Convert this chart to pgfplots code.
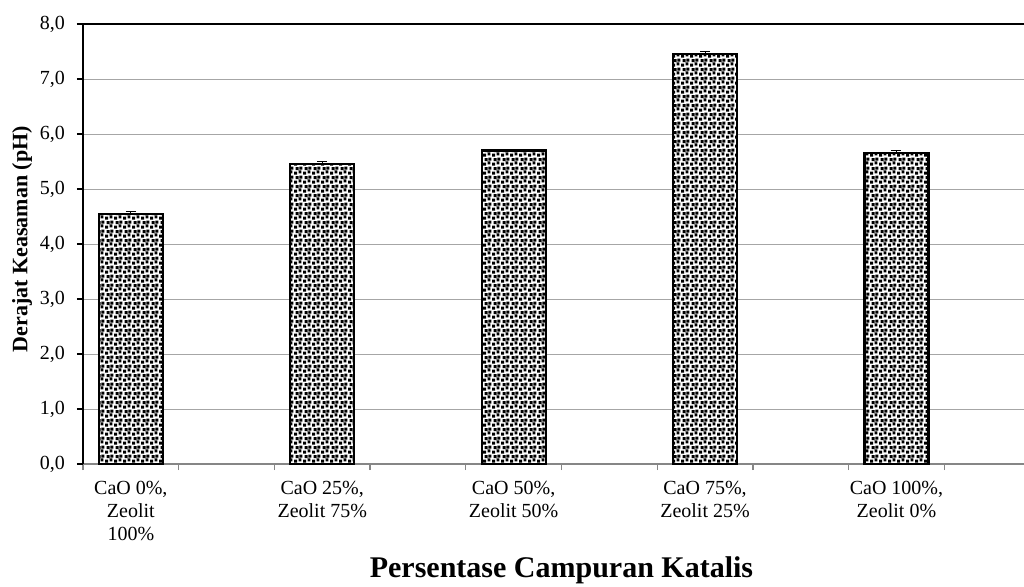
\documentclass[border=0pt]{standalone}
\usepackage{pgfplots}
\pgfplotsset{compat=1.18}
\usepackage{pgfplotstable}
\usepackage{fontspec}
\setmainfont{Liberation Serif}
\usetikzlibrary{patterns}

\definecolor{gridgray}{HTML}{A6A6A6}
\definecolor{axisgray}{HTML}{868686}

% small confetti fill for the bars
\pgfdeclarepatternformonly{confetti}{\pgfqpoint{0pt}{0pt}}{\pgfqpoint{4.4pt}{4.4pt}}{\pgfqpoint{4.4pt}{4.4pt}}{%
  \pgfpathrectangle{\pgfqpoint{0.1pt}{0.2pt}}{\pgfqpoint{1.5pt}{1.5pt}}%
  \pgfpathrectangle{\pgfqpoint{2.3pt}{0.8pt}}{\pgfqpoint{1.5pt}{1.5pt}}%
  \pgfpathrectangle{\pgfqpoint{0.8pt}{2.5pt}}{\pgfqpoint{1.5pt}{1.5pt}}%
  \pgfpathrectangle{\pgfqpoint{2.8pt}{2.8pt}}{\pgfqpoint{1.5pt}{1.5pt}}%
  \pgfusepath{fill}}

% pH of each catalyst mixture (x = slot position, e = error)
\pgfplotstableread{
x   y     e
0.5 4.55  0.05
2.5 5.45  0.05
4.5 5.70  0.00
6.5 7.45  0.05
8.5 5.65  0.05
}\phdata

\begin{document}
\begin{tikzpicture}
\useasboundingbox (-41.5pt,-61pt) rectangle (470.5pt,232pt);
\clip (-41.5pt,-61pt) rectangle (470.5pt,232pt);
\begin{axis}[
  at={(0,0)}, anchor=south west,
  scale only axis, width=478.5pt, height=220pt,
  xmin=0, xmax=10, ymin=0, ymax=8,
  axis x line*=bottom, axis y line*=left,
  x axis line style={-, draw=axisgray, line width=0.8pt},
  y axis line style={-, draw=black, line width=0.7pt},
  tick align=outside,
  xtick={0.5,2.5,4.5,6.5,8.5},
  xticklabels={{CaO 0\%,\\Zeolit\\100\%},{CaO 25\%,\\Zeolit 75\%},{CaO 50\%,\\Zeolit 50\%},{CaO 75\%,\\Zeolit 25\%},{CaO 100\%,\\Zeolit 0\%}},
  xticklabel style={align=center, font=\fontsize{10}{11.5}\selectfont, yshift=-2pt},
  major x tick style={draw=none},
  minor xtick={0,1,...,10},
  minor x tick style={draw=axisgray, line width=0.6pt},
  minor tick length=3pt,
  ytick={0,1,...,8},
  major tick length=3pt,
  y tick style={draw=black, line width=0.6pt},
  yticklabel style={xshift=-2.5pt, /pgf/number format/.cd, fixed, fixed zerofill, precision=1, use comma},
  /pgf/number format/assume math mode=true,
  ymajorgrids,
  grid style={draw=gridgray, line width=0.5pt},
  extra y ticks={8}, extra y tick labels={},
  extra y tick style={grid style={draw=black, line width=1pt}},
  xlabel={Persentase Campuran Katalis},
  xlabel style={at={(axis description cs:0.5,0)}, anchor=center, yshift=-53pt,
    font=\fontsize{15}{17}\selectfont\bfseries},
  ylabel={Derajat Keasaman (pH)},
  ylabel style={at={(axis description cs:-0.0637,0.511)}, anchor=center,
    font=\fontsize{11}{13}\selectfont\bfseries},
]
\addplot[ybar, bar width=32pt, draw=black, line width=1.1pt, fill=white,
  postaction={pattern=confetti},
  error bars/.cd, y dir=plus, y explicit,
  error bar style={black, line width=0.5pt},
  error mark options={rotate=90, mark size=2.5pt, line width=0.5pt, black}]
  table[x=x, y=y, y error=e] {\phdata};
\end{axis}
\end{tikzpicture}
\end{document}
